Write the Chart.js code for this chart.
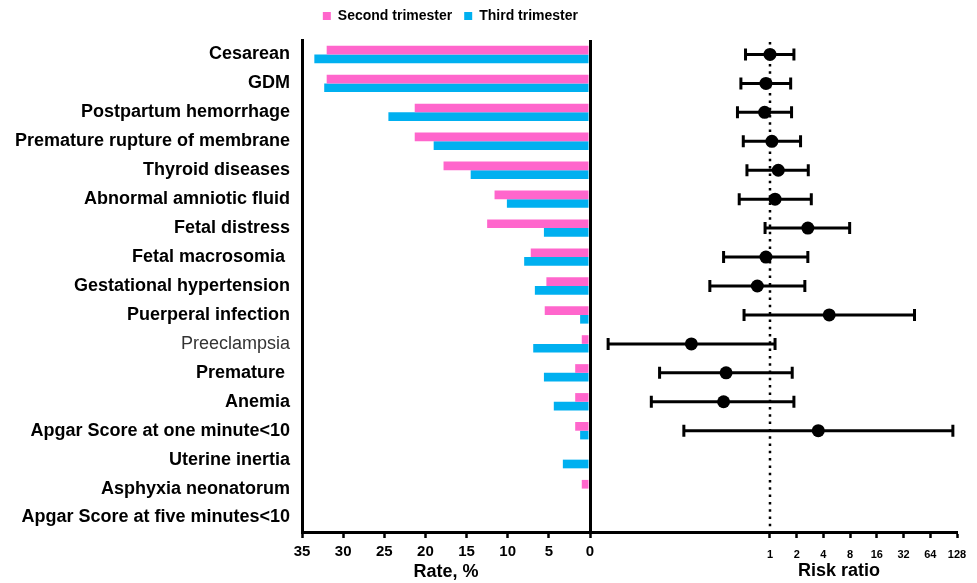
<!DOCTYPE html>
<html>
<head>
<meta charset="utf-8">
<script src="https://cdn.jsdelivr.net/npm/chart.js@4.4.0/dist/chart.umd.min.js"></script>
<style>
    html, body { margin: 0; padding: 0; background: #fff; }
    #wrap { position: relative; width: 977px; height: 583px; overflow: hidden; }
    #rate-chart { position: absolute; left: 0; top: 0; }
    #risk-chart { position: absolute; left: 586px; top: 0; }
</style>
</head>
<body>
<div id="wrap">
    <canvas id="rate-chart" width="600" height="583"></canvas>
    <canvas id="risk-chart" width="391" height="583"></canvas>
</div>
<script>
    // Outcomes (top to bottom)
    const outcomes = [
        "Cesarean", "GDM", "Postpartum hemorrhage", "Premature rupture of membrane",
        "Thyroid diseases", "Abnormal amniotic fluid", "Fetal distress", "Fetal macrosomia ",
        "Gestational hypertension", "Puerperal infection", "Preeclampsia", "Premature ",
        "Anemia", "Apgar Score at one minute<10", "Uterine inertia", "Asphyxia neonatorum",
        "Apgar Score at five minutes<10"
    ];

    // Rate, %
    const secondTrimester = [32.0, 32.0, 21.3, 21.3, 17.8, 11.6, 12.5, 7.2, 5.3, 5.5, 1.0, 1.8, 1.8, 1.8, 0, 1.0, 0];
    const thirdTrimester  = [33.5, 32.3, 24.5, 19.0, 14.5, 10.1, 5.6, 8.0, 6.7, 1.2, 6.9, 5.6, 4.4, 1.2, 3.3, 0, 0];

    // Risk ratio with 95% CI
    const riskRatio = [1.00, 0.90, 0.87, 1.05, 1.24, 1.14, 2.67, 0.90, 0.72, 4.65, 0.13, 0.32, 0.30, 3.5, null, null, null];
    const ciLower   = [0.53, 0.47, 0.43, 0.50, 0.55, 0.45, 0.88, 0.30, 0.21, 0.51, 0.015, 0.057, 0.046, 0.107, null, null, null];
    const ciUpper   = [1.86, 1.71, 1.75, 2.21, 2.70, 2.92, 7.9, 2.67, 2.47, 42.5, 1.14, 1.78, 1.86, 115, null, null, null];

    const rateTicks = [0, 5, 10, 15, 20, 25, 30, 35];
    const riskTicks = [1, 2, 4, 8, 16, 32, 64, 128];

    const FONT = "'Liberation Sans', Arial, Helvetica, sans-serif";
    const PINK = "#FF66CC";
    const BLUE = "#00B0F0";

    Chart.defaults.font.family = FONT;
    Chart.defaults.color = "#000";

    // keep plot areas of both panels aligned
    function noPad(scale) {
        scale.paddingLeft = 0;
        scale.paddingRight = 0;
        scale.paddingTop = 0;
        scale.paddingBottom = 0;
    }

    // extra room under the legend
    const legendGap = {
        id: "legendGap",
        beforeInit(chart) {
            const fit = chart.legend.fit;
            chart.legend.fit = function () {
                fit.bind(chart.legend)();
                this.height += 7;
            };
        }
    };


    // Rate bar chart
    new Chart(document.getElementById("rate-chart"), {
        type: "bar",
        data: {
            labels: outcomes,
            datasets: [{
                    label: "Second trimester",
                    data: secondTrimester,
                    backgroundColor: PINK
                },
                {
                    label: "Third trimester",
                    data: thirdTrimester,
                    backgroundColor: BLUE
                }
            ]
        },
        options: {
            indexAxis: "y",
            responsive: false,
            animation: false,
            layout: { padding: { left: 0, right: 10, top: -3, bottom: 0 } },
            datasets: { bar: { categoryPercentage: 0.6, barPercentage: 1.0 } },
            plugins: {
                legend: {
                    position: "top",
                    align: "end",
                    labels: {
                        boxWidth: 8,
                        boxHeight: 8,
                        padding: 12,
                        color: "#000",
                        font: { size: 14, weight: "bold" }
                    }
                },
                tooltip: { enabled: false }
            },
            scales: {
                x: {
                    reverse: true,
                    min: 0,
                    max: 35,
                    afterBuildTicks: function (axis) {
                        axis.ticks = rateTicks.map(v => ({ value: v }));
                    },
                    afterFit: function (scale) {
                        noPad(scale);
                        scale.height = 51;
                    },
                    border: { display: true, color: "#000", width: 3 },
                    grid: {
                        drawOnChartArea: true,
                        drawTicks: true,
                        tickLength: 6,
                        tickWidth: 2.5,
                        tickColor: "#000",
                        lineWidth: 3,
                        color: ctx => (ctx.tick && ctx.tick.value === 0) ? "#000" : "rgba(0,0,0,0)"
                    },
                    ticks: {
                        padding: 5,
                        maxRotation: 0,
                        color: "#000",
                        font: { size: 15, weight: "bold" }
                    },
                    title: {
                        display: true,
                        text: "Rate, %",
                        color: "#000",
                        padding: { top: 0, bottom: 0 },
                        font: { size: 18, weight: "bold" }
                    }
                },
                y: {
                    afterFit: function (scale) {
                        noPad(scale);
                        scale.width = 302;
                    },
                    border: { display: true, color: "#000", width: 3 },
                    grid: { display: false, drawTicks: false },
                    ticks: {
                        padding: 12,
                        autoSkip: false,
                        color: ctx => ctx.index === 10 ? "#333" : "#000",
                        font: ctx => ({ size: 18, weight: ctx.index === 10 ? "normal" : "bold" })
                    }
                }
            }
        },
        plugins: [legendGap]
    });


    // Reference line at RR = 1, confidence intervals and axis title
    const forestMarks = {
        id: "forestMarks",
        beforeDatasetsDraw(chart) {
            const ctx = chart.ctx;
            const x = chart.scales.x;
            const y = chart.scales.y;
            const area = chart.chartArea;

            ctx.save();
            const x1 = x.getPixelForValue(1);
            ctx.strokeStyle = "#000";
            ctx.lineWidth = 2.5;
            ctx.setLineDash([2.5, 4.8]);
            ctx.beginPath();
            ctx.moveTo(x1, area.top + 2);
            ctx.lineTo(x1, area.bottom);
            ctx.stroke();
            ctx.setLineDash([]);

            ctx.lineWidth = 3;
            ciLower.forEach(function (lo, i) {
                if (lo == null) return;
                const yp = y.getPixelForValue(i);
                const xl = x.getPixelForValue(lo);
                const xh = x.getPixelForValue(ciUpper[i]);
                ctx.beginPath();
                ctx.moveTo(xl, yp);
                ctx.lineTo(xh, yp);
                ctx.moveTo(xl, yp - 6);
                ctx.lineTo(xl, yp + 6);
                ctx.moveTo(xh, yp - 6);
                ctx.lineTo(xh, yp + 6);
                ctx.stroke();
            });
            ctx.restore();
        },
        afterDraw(chart) {
            // axis title sits under the 1..128 part of the axis
            const ctx = chart.ctx;
            const x = chart.scales.x;
            ctx.save();
            ctx.fillStyle = "#000";
            ctx.font = "bold 18px " + FONT;
            ctx.textAlign = "center";
            ctx.textBaseline = "middle";
            ctx.fillText("Risk ratio", x.getPixelForValue(6), x.bottom - 12);
            ctx.restore();
        }
    };

    const riskPoints = [];
    riskRatio.forEach(function (v, i) {
        if (v != null) riskPoints.push({ x: v, y: outcomes[i] });
    });

    // Risk ratio forest plot
    new Chart(document.getElementById("risk-chart"), {
        type: "scatter",
        data: {
            labels: outcomes,
            datasets: [{
                label: "Risk ratio",
                data: riskPoints,
                backgroundColor: "#000",
                borderColor: "#000",
                pointRadius: 6.5,
                pointBorderWidth: 0
            }]
        },
        options: {
            responsive: false,
            animation: false,
            layout: { padding: { left: 0, right: 20, top: 40, bottom: 0 } },
            plugins: {
                legend: { display: false },
                tooltip: { enabled: false }
            },
            scales: {
                x: {
                    type: "logarithmic",
                    min: 0.01,
                    max: 128,
                    afterBuildTicks: function (axis) {
                        axis.ticks = riskTicks.map(v => ({ value: v }));
                    },
                    afterFit: function (scale) {
                        noPad(scale);
                        scale.height = 51;
                    },
                    border: { display: true, color: "#000", width: 3 },
                    grid: {
                        drawOnChartArea: false,
                        drawTicks: true,
                        tickLength: 6,
                        tickWidth: 2.5,
                        tickColor: "#000"
                    },
                    ticks: {
                        padding: 10,
                        maxRotation: 0,
                        autoSkip: false,
                        color: "#000",
                        font: { size: 11, weight: "bold" },
                        callback: v => String(v)
                    },
                    title: { display: false }
                },
                y: {
                    type: "category",
                    labels: outcomes,
                    offset: true,
                    display: false,
                    afterFit: noPad
                }
            }
        },
        plugins: [forestMarks]
    });
</script>
</body>
</html>
